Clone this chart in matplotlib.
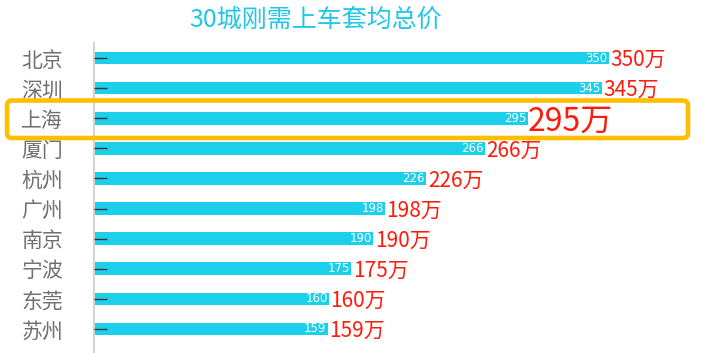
import matplotlib
matplotlib.use('Agg')
import matplotlib.pyplot as plt
import matplotlib.transforms as mtransforms
from matplotlib.patches import FancyBboxPatch

plt.rcParams['font.family'] = ['Noto Sans CJK SC', 'DejaVu Sans']

cities = ['北京', '深圳', '上海', '厦门', '杭州', '广州', '南京', '宁波', '东莞', '苏州']
prices = [350, 345, 295, 266, 226, 198, 190, 175, 160, 159]
highlight = '上海'

bar_color = '#1ccfea'
title_color = '#22c6e6'

fig = plt.figure(figsize=(7.09, 3.53), dpi=100)
ax = fig.add_axes([93.6 / 709, 0, (709 - 93.6) / 709, 310 / 353])

y = list(range(len(cities)))
ax.barh(y, prices, height=0.42, color=bar_color, edgecolor='none')
ax.set_xlim(0, 418)
ax.set_ylim(9.8, -0.5)

ax.set_yticks(y)
ax.set_yticklabels(cities, fontsize=15, color='#707070')
ax.tick_params(axis='y', direction='in', length=9.4, width=1, color='#333333', pad=22)
ax.set_xticks([])
for s in ['top', 'right', 'bottom']:
    ax.spines[s].set_visible(False)
ax.spines['left'].set_color('#d4d4d4')
ax.spines['left'].set_linewidth(1.5)
ax.set_axisbelow(False)

# value labels: small white inside, red outside
for i, (c, v) in enumerate(zip(cities, prices)):
    ax.annotate(str(v), (v, i), xytext=(-1, 0), textcoords='offset points',
                ha='right', va='center', fontsize=8.5, color='white',
                family=['DejaVu Sans'])
    big = c == highlight
    ax.annotate(f'{v}万', (v, i), xytext=(0 if big else 1, -2.5 if big else -1.5),
                textcoords='offset points', ha='left', va='center',
                fontsize=23 if big else 15, color='#ff1a0a')

fig.text(316 / 709, 1 - 20 / 353, '30城刚需上车套均总价', ha='center', va='center',
         fontsize=18, color=title_color)

# highlight frame (pixel coords)
box = FancyBboxPatch((7, 353 - 138), 681, 37.5, boxstyle='round,pad=0,rounding_size=5',
                     transform=mtransforms.IdentityTransform(), fill=False,
                     edgecolor='#ffbf00', linewidth=3.3)
fig.add_artist(box)

fig.savefig('out.png', dpi=100)
